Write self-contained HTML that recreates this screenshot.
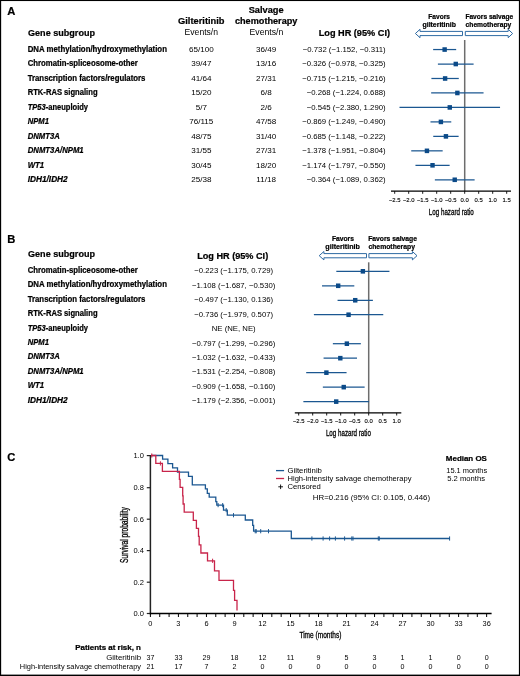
<!DOCTYPE html>
<html><head><meta charset="utf-8"><style>
html,body{margin:0;padding:0;background:#fff;overflow:hidden;width:520px;height:676px;}
svg{display:block;font-family:"Liberation Sans",sans-serif;will-change:transform;}
</style></head><body>
<svg width="520" height="676" viewBox="0 0 520 676">
<rect width="520" height="676" fill="#fff"/>
<rect x="0" y="0" width="520" height="1.05" fill="#000"/><rect x="0" y="0" width="1.15" height="676" fill="#000"/><rect x="518.9" y="0" width="1.1" height="676" fill="#000"/><rect x="0" y="674.6" width="520" height="1.4" fill="#000"/>
<text x="7.20" y="15.00" font-size="11.2" font-weight="bold" stroke="#000" stroke-width="0.22">A</text>
<text x="28.00" y="35.50" font-size="9.3" font-weight="bold" stroke="#000" stroke-width="0.22" textLength="67.00" lengthAdjust="spacingAndGlyphs">Gene subgroup</text>
<text x="201.30" y="24.25" font-size="9.1" font-weight="bold" stroke="#000" stroke-width="0.22" text-anchor="middle" textLength="46.50" lengthAdjust="spacingAndGlyphs">Gilteritinib</text>
<text x="266.20" y="13.00" font-size="9.1" font-weight="bold" stroke="#000" stroke-width="0.22" text-anchor="middle" textLength="35.00" lengthAdjust="spacingAndGlyphs">Salvage</text>
<text x="266.20" y="24.10" font-size="9.1" font-weight="bold" stroke="#000" stroke-width="0.22" text-anchor="middle" textLength="62.50" lengthAdjust="spacingAndGlyphs">chemotherapy</text>
<text x="201.30" y="35.00" font-size="8.6" text-anchor="middle" textLength="33.50" lengthAdjust="spacingAndGlyphs">Events/n</text>
<text x="266.40" y="35.00" font-size="8.6" text-anchor="middle" textLength="33.70" lengthAdjust="spacingAndGlyphs">Events/n</text>
<text x="318.70" y="35.80" font-size="9.1" font-weight="bold" stroke="#000" stroke-width="0.22" textLength="71.30" lengthAdjust="spacingAndGlyphs">Log HR (95% CI)</text>
<text x="27.70" y="51.90" font-size="8.3" font-weight="bold" stroke="#000" stroke-width="0.22" textLength="139.25" lengthAdjust="spacingAndGlyphs">DNA methylation/hydroxymethylation</text>
<text x="201.30" y="51.90" font-size="8.1" text-anchor="middle">65/100</text>
<text x="266.20" y="51.90" font-size="8.1" text-anchor="middle">36/49</text>
<text x="385.60" y="51.90" font-size="7.75" text-anchor="end">−0.732 (−1.152, −0.311)</text>
<text x="27.70" y="66.37" font-size="8.3" font-weight="bold" stroke="#000" stroke-width="0.22" textLength="110.13" lengthAdjust="spacingAndGlyphs">Chromatin-spliceosome-other</text>
<text x="201.30" y="66.37" font-size="8.1" text-anchor="middle">39/47</text>
<text x="266.20" y="66.37" font-size="8.1" text-anchor="middle">13/16</text>
<text x="385.60" y="66.37" font-size="7.75" text-anchor="end">−0.326 (−0.978, −0.325)</text>
<text x="27.70" y="80.84" font-size="8.3" font-weight="bold" stroke="#000" stroke-width="0.22" textLength="117.68" lengthAdjust="spacingAndGlyphs">Transcription factors/regulators</text>
<text x="201.30" y="80.84" font-size="8.1" text-anchor="middle">41/64</text>
<text x="266.20" y="80.84" font-size="8.1" text-anchor="middle">27/31</text>
<text x="385.60" y="80.84" font-size="7.75" text-anchor="end">−0.715 (−1.215, −0.216)</text>
<text x="27.70" y="95.31" font-size="8.3" font-weight="bold" stroke="#000" stroke-width="0.22" textLength="69.86" lengthAdjust="spacingAndGlyphs">RTK-RAS signaling</text>
<text x="201.30" y="95.31" font-size="8.1" text-anchor="middle">15/20</text>
<text x="266.20" y="95.31" font-size="8.1" text-anchor="middle">6/8</text>
<text x="385.60" y="95.31" font-size="7.75" text-anchor="end">−0.268 (−1.224, 0.688)</text>
<text x="27.70" y="109.78" font-size="8.3" font-weight="bold" stroke="#000" stroke-width="0.22" textLength="60.37" lengthAdjust="spacingAndGlyphs"><tspan font-style="italic">TP53</tspan>-aneuploidy</text>
<text x="201.30" y="109.78" font-size="8.1" text-anchor="middle">5/7</text>
<text x="266.20" y="109.78" font-size="8.1" text-anchor="middle">2/6</text>
<text x="385.60" y="109.78" font-size="7.75" text-anchor="end">−0.545 (−2.380, 1.290)</text>
<text x="27.70" y="124.25" font-size="8.3" font-weight="bold" stroke="#000" stroke-width="0.22" font-style="italic" textLength="21.26" lengthAdjust="spacingAndGlyphs">NPM1</text>
<text x="201.30" y="124.25" font-size="8.1" text-anchor="middle">76/115</text>
<text x="266.20" y="124.25" font-size="8.1" text-anchor="middle">47/58</text>
<text x="385.60" y="124.25" font-size="7.75" text-anchor="end">−0.869 (−1.249, −0.490)</text>
<text x="27.70" y="138.72" font-size="8.3" font-weight="bold" stroke="#000" stroke-width="0.22" font-style="italic" textLength="32.09" lengthAdjust="spacingAndGlyphs">DNMT3A</text>
<text x="201.30" y="138.72" font-size="8.1" text-anchor="middle">48/75</text>
<text x="266.20" y="138.72" font-size="8.1" text-anchor="middle">31/40</text>
<text x="385.60" y="138.72" font-size="7.75" text-anchor="end">−0.685 (−1.148, −0.222)</text>
<text x="27.70" y="153.19" font-size="8.3" font-weight="bold" stroke="#000" stroke-width="0.22" font-style="italic" textLength="55.99" lengthAdjust="spacingAndGlyphs">DNMT3A/NPM1</text>
<text x="201.30" y="153.19" font-size="8.1" text-anchor="middle">31/55</text>
<text x="266.20" y="153.19" font-size="8.1" text-anchor="middle">27/31</text>
<text x="385.60" y="153.19" font-size="7.75" text-anchor="end">−1.378 (−1.951, −0.804)</text>
<text x="27.70" y="167.66" font-size="8.3" font-weight="bold" stroke="#000" stroke-width="0.22" font-style="italic" textLength="16.54" lengthAdjust="spacingAndGlyphs">WT1</text>
<text x="201.30" y="167.66" font-size="8.1" text-anchor="middle">30/45</text>
<text x="266.20" y="167.66" font-size="8.1" text-anchor="middle">18/20</text>
<text x="385.60" y="167.66" font-size="7.75" text-anchor="end">−1.174 (−1.797, −0.550)</text>
<text x="27.70" y="182.13" font-size="8.3" font-weight="bold" stroke="#000" stroke-width="0.22" font-style="italic" textLength="40.02" lengthAdjust="spacingAndGlyphs">IDH1/IDH2</text>
<text x="201.30" y="182.13" font-size="8.1" text-anchor="middle">25/38</text>
<text x="266.20" y="182.13" font-size="8.1" text-anchor="middle">11/18</text>
<text x="385.60" y="182.13" font-size="7.75" text-anchor="end">−0.364 (−1.089, 0.362)</text>
<line x1="464.70" y1="40.00" x2="464.70" y2="191.20" stroke="#6d6d6d" stroke-width="1.5"/>
<line x1="433.14" y1="49.55" x2="456.18" y2="49.55" stroke="#1b5791" stroke-width="1.25"/>
<rect x="442.44" y="47.25" width="4.4" height="4.6" fill="#0b4a88"/>
<line x1="437.90" y1="64.02" x2="473.60" y2="64.02" stroke="#1b5791" stroke-width="1.25"/>
<rect x="453.57" y="61.72" width="4.4" height="4.6" fill="#0b4a88"/>
<line x1="431.41" y1="78.49" x2="458.78" y2="78.49" stroke="#1b5791" stroke-width="1.25"/>
<rect x="442.91" y="76.19" width="4.4" height="4.6" fill="#0b4a88"/>
<line x1="431.16" y1="92.96" x2="483.55" y2="92.96" stroke="#1b5791" stroke-width="1.25"/>
<rect x="455.16" y="90.66" width="4.4" height="4.6" fill="#0b4a88"/>
<line x1="399.49" y1="107.43" x2="500.05" y2="107.43" stroke="#1b5791" stroke-width="1.25"/>
<rect x="447.57" y="105.13" width="4.4" height="4.6" fill="#0b4a88"/>
<line x1="430.48" y1="121.90" x2="451.27" y2="121.90" stroke="#1b5791" stroke-width="1.25"/>
<rect x="438.69" y="119.60" width="4.4" height="4.6" fill="#0b4a88"/>
<line x1="433.24" y1="136.37" x2="458.62" y2="136.37" stroke="#1b5791" stroke-width="1.25"/>
<rect x="443.73" y="134.07" width="4.4" height="4.6" fill="#0b4a88"/>
<line x1="411.24" y1="150.84" x2="442.67" y2="150.84" stroke="#1b5791" stroke-width="1.25"/>
<rect x="424.74" y="148.54" width="4.4" height="4.6" fill="#0b4a88"/>
<line x1="415.46" y1="165.31" x2="449.63" y2="165.31" stroke="#1b5791" stroke-width="1.25"/>
<rect x="430.33" y="163.01" width="4.4" height="4.6" fill="#0b4a88"/>
<line x1="434.86" y1="179.78" x2="474.62" y2="179.78" stroke="#1b5791" stroke-width="1.25"/>
<rect x="452.53" y="177.48" width="4.4" height="4.6" fill="#0b4a88"/>
<line x1="391.00" y1="191.20" x2="511.00" y2="191.20" stroke="#000" stroke-width="1.3"/>
<line x1="394.70" y1="191.20" x2="394.70" y2="193.80" stroke="#000" stroke-width="0.9"/>
<text x="394.70" y="201.70" font-size="5.9" text-anchor="middle" stroke="#000" stroke-width="0.12">−2.5</text>
<line x1="408.70" y1="191.20" x2="408.70" y2="193.80" stroke="#000" stroke-width="0.9"/>
<text x="408.70" y="201.70" font-size="5.9" text-anchor="middle" stroke="#000" stroke-width="0.12">−2.0</text>
<line x1="422.70" y1="191.20" x2="422.70" y2="193.80" stroke="#000" stroke-width="0.9"/>
<text x="422.70" y="201.70" font-size="5.9" text-anchor="middle" stroke="#000" stroke-width="0.12">−1.5</text>
<line x1="436.70" y1="191.20" x2="436.70" y2="193.80" stroke="#000" stroke-width="0.9"/>
<text x="436.70" y="201.70" font-size="5.9" text-anchor="middle" stroke="#000" stroke-width="0.12">−1.0</text>
<line x1="450.70" y1="191.20" x2="450.70" y2="193.80" stroke="#000" stroke-width="0.9"/>
<text x="450.70" y="201.70" font-size="5.9" text-anchor="middle" stroke="#000" stroke-width="0.12">−0.5</text>
<line x1="464.70" y1="191.20" x2="464.70" y2="193.80" stroke="#000" stroke-width="0.9"/>
<text x="464.70" y="201.70" font-size="5.9" text-anchor="middle" stroke="#000" stroke-width="0.12">0.0</text>
<line x1="478.70" y1="191.20" x2="478.70" y2="193.80" stroke="#000" stroke-width="0.9"/>
<text x="478.70" y="201.70" font-size="5.9" text-anchor="middle" stroke="#000" stroke-width="0.12">0.5</text>
<line x1="492.70" y1="191.20" x2="492.70" y2="193.80" stroke="#000" stroke-width="0.9"/>
<text x="492.70" y="201.70" font-size="5.9" text-anchor="middle" stroke="#000" stroke-width="0.12">1.0</text>
<line x1="506.70" y1="191.20" x2="506.70" y2="193.80" stroke="#000" stroke-width="0.9"/>
<text x="506.70" y="201.70" font-size="5.9" text-anchor="middle" stroke="#000" stroke-width="0.12">1.5</text>
<text x="451.30" y="214.60" font-size="8.8" text-anchor="middle" textLength="45.00" lengthAdjust="spacingAndGlyphs" stroke="#000" stroke-width="0.3">Log hazard ratio</text>
<polygon points="415.4,33.5 420.0,29.3 420.0,31.4 462.5,31.4 462.5,35.6 420.0,35.6 420.0,37.7" fill="#fff" stroke="#2e6aa3" stroke-width="1" stroke-linejoin="miter"/>
<polygon points="465.3,31.4 508.2,31.4 508.2,29.3 512.6,33.5 508.2,37.7 508.2,35.6 465.3,35.6" fill="#fff" stroke="#2e6aa3" stroke-width="1" stroke-linejoin="miter"/>
<text x="439.10" y="18.70" font-size="6.8" font-weight="bold" stroke="#000" stroke-width="0.22" text-anchor="middle" textLength="21.60" lengthAdjust="spacingAndGlyphs">Favors</text>
<text x="439.20" y="26.80" font-size="6.8" font-weight="bold" stroke="#000" stroke-width="0.22" text-anchor="middle" textLength="33.40" lengthAdjust="spacingAndGlyphs">gilteritinib</text>
<text x="489.30" y="18.70" font-size="6.8" font-weight="bold" stroke="#000" stroke-width="0.22" text-anchor="middle" textLength="47.80" lengthAdjust="spacingAndGlyphs">Favors salvage</text>
<text x="488.40" y="26.70" font-size="6.8" font-weight="bold" stroke="#000" stroke-width="0.22" text-anchor="middle" textLength="45.60" lengthAdjust="spacingAndGlyphs">chemotherapy</text>
<text x="7.20" y="243.00" font-size="11.2" font-weight="bold" stroke="#000" stroke-width="0.22">B</text>
<text x="28.00" y="257.30" font-size="9.3" font-weight="bold" stroke="#000" stroke-width="0.22" textLength="67.00" lengthAdjust="spacingAndGlyphs">Gene subgroup</text>
<text x="232.70" y="258.60" font-size="9.1" font-weight="bold" stroke="#000" stroke-width="0.22" text-anchor="middle" textLength="71.00" lengthAdjust="spacingAndGlyphs">Log HR (95% CI)</text>
<text x="27.70" y="272.60" font-size="8.3" font-weight="bold" stroke="#000" stroke-width="0.22" textLength="110.13" lengthAdjust="spacingAndGlyphs">Chromatin-spliceosome-other</text>
<text x="233.70" y="273.10" font-size="7.75" text-anchor="middle">−0.223 (−1.175, 0.729)</text>
<text x="27.70" y="287.08" font-size="8.3" font-weight="bold" stroke="#000" stroke-width="0.22" textLength="139.25" lengthAdjust="spacingAndGlyphs">DNA methylation/hydroxymethylation</text>
<text x="233.70" y="287.58" font-size="7.75" text-anchor="middle">−1.108 (−1.687, −0.530)</text>
<text x="27.70" y="301.56" font-size="8.3" font-weight="bold" stroke="#000" stroke-width="0.22" textLength="117.68" lengthAdjust="spacingAndGlyphs">Transcription factors/regulators</text>
<text x="233.70" y="302.06" font-size="7.75" text-anchor="middle">−0.497 (−1.130, 0.136)</text>
<text x="27.70" y="316.04" font-size="8.3" font-weight="bold" stroke="#000" stroke-width="0.22" textLength="69.86" lengthAdjust="spacingAndGlyphs">RTK-RAS signaling</text>
<text x="233.70" y="316.54" font-size="7.75" text-anchor="middle">−0.736 (−1.979, 0.507)</text>
<text x="27.70" y="330.52" font-size="8.3" font-weight="bold" stroke="#000" stroke-width="0.22" textLength="60.37" lengthAdjust="spacingAndGlyphs"><tspan font-style="italic">TP53</tspan>-aneuploidy</text>
<text x="233.70" y="331.02" font-size="7.75" text-anchor="middle">NE (NE, NE)</text>
<text x="27.70" y="345.00" font-size="8.3" font-weight="bold" stroke="#000" stroke-width="0.22" font-style="italic" textLength="21.26" lengthAdjust="spacingAndGlyphs">NPM1</text>
<text x="233.70" y="345.50" font-size="7.75" text-anchor="middle">−0.797 (−1.299, −0.296)</text>
<text x="27.70" y="359.48" font-size="8.3" font-weight="bold" stroke="#000" stroke-width="0.22" font-style="italic" textLength="32.09" lengthAdjust="spacingAndGlyphs">DNMT3A</text>
<text x="233.70" y="359.98" font-size="7.75" text-anchor="middle">−1.032 (−1.632, −0.433)</text>
<text x="27.70" y="373.96" font-size="8.3" font-weight="bold" stroke="#000" stroke-width="0.22" font-style="italic" textLength="55.99" lengthAdjust="spacingAndGlyphs">DNMT3A/NPM1</text>
<text x="233.70" y="374.46" font-size="7.75" text-anchor="middle">−1.531 (−2.254, −0.808)</text>
<text x="27.70" y="388.44" font-size="8.3" font-weight="bold" stroke="#000" stroke-width="0.22" font-style="italic" textLength="16.54" lengthAdjust="spacingAndGlyphs">WT1</text>
<text x="233.70" y="388.94" font-size="7.75" text-anchor="middle">−0.909 (−1.658, −0.160)</text>
<text x="27.70" y="402.92" font-size="8.3" font-weight="bold" stroke="#000" stroke-width="0.22" font-style="italic" textLength="40.02" lengthAdjust="spacingAndGlyphs">IDH1/IDH2</text>
<text x="233.70" y="403.42" font-size="7.75" text-anchor="middle">−1.179 (−2.356, −0.001)</text>
<line x1="368.70" y1="262.30" x2="368.70" y2="412.90" stroke="#6d6d6d" stroke-width="1.5"/>
<line x1="336.32" y1="271.30" x2="389.44" y2="271.30" stroke="#1b5791" stroke-width="1.25"/>
<rect x="360.68" y="269.00" width="4.4" height="4.6" fill="#0b4a88"/>
<line x1="322.03" y1="285.78" x2="354.31" y2="285.78" stroke="#1b5791" stroke-width="1.25"/>
<rect x="335.99" y="283.48" width="4.4" height="4.6" fill="#0b4a88"/>
<line x1="337.57" y1="300.26" x2="372.89" y2="300.26" stroke="#1b5791" stroke-width="1.25"/>
<rect x="353.03" y="297.96" width="4.4" height="4.6" fill="#0b4a88"/>
<line x1="313.89" y1="314.74" x2="383.25" y2="314.74" stroke="#1b5791" stroke-width="1.25"/>
<rect x="346.37" y="312.44" width="4.4" height="4.6" fill="#0b4a88"/>
<line x1="332.86" y1="343.70" x2="360.84" y2="343.70" stroke="#1b5791" stroke-width="1.25"/>
<rect x="344.66" y="341.40" width="4.4" height="4.6" fill="#0b4a88"/>
<line x1="323.57" y1="358.18" x2="357.02" y2="358.18" stroke="#1b5791" stroke-width="1.25"/>
<rect x="338.11" y="355.88" width="4.4" height="4.6" fill="#0b4a88"/>
<line x1="306.21" y1="372.66" x2="346.56" y2="372.66" stroke="#1b5791" stroke-width="1.25"/>
<rect x="324.19" y="370.36" width="4.4" height="4.6" fill="#0b4a88"/>
<line x1="322.84" y1="387.14" x2="364.64" y2="387.14" stroke="#1b5791" stroke-width="1.25"/>
<rect x="341.54" y="384.84" width="4.4" height="4.6" fill="#0b4a88"/>
<line x1="303.37" y1="401.62" x2="369.07" y2="401.62" stroke="#1b5791" stroke-width="1.25"/>
<rect x="334.01" y="399.32" width="4.4" height="4.6" fill="#0b4a88"/>
<line x1="294.80" y1="412.90" x2="401.30" y2="412.90" stroke="#000" stroke-width="1.3"/>
<line x1="298.70" y1="412.90" x2="298.70" y2="415.50" stroke="#000" stroke-width="0.9"/>
<text x="298.70" y="423.40" font-size="5.9" text-anchor="middle" stroke="#000" stroke-width="0.12">−2.5</text>
<line x1="312.70" y1="412.90" x2="312.70" y2="415.50" stroke="#000" stroke-width="0.9"/>
<text x="312.70" y="423.40" font-size="5.9" text-anchor="middle" stroke="#000" stroke-width="0.12">−2.0</text>
<line x1="326.70" y1="412.90" x2="326.70" y2="415.50" stroke="#000" stroke-width="0.9"/>
<text x="326.70" y="423.40" font-size="5.9" text-anchor="middle" stroke="#000" stroke-width="0.12">−1.5</text>
<line x1="340.70" y1="412.90" x2="340.70" y2="415.50" stroke="#000" stroke-width="0.9"/>
<text x="340.70" y="423.40" font-size="5.9" text-anchor="middle" stroke="#000" stroke-width="0.12">−1.0</text>
<line x1="354.70" y1="412.90" x2="354.70" y2="415.50" stroke="#000" stroke-width="0.9"/>
<text x="354.70" y="423.40" font-size="5.9" text-anchor="middle" stroke="#000" stroke-width="0.12">−0.5</text>
<line x1="368.70" y1="412.90" x2="368.70" y2="415.50" stroke="#000" stroke-width="0.9"/>
<text x="368.70" y="423.40" font-size="5.9" text-anchor="middle" stroke="#000" stroke-width="0.12">0.0</text>
<line x1="382.70" y1="412.90" x2="382.70" y2="415.50" stroke="#000" stroke-width="0.9"/>
<text x="382.70" y="423.40" font-size="5.9" text-anchor="middle" stroke="#000" stroke-width="0.12">0.5</text>
<line x1="396.70" y1="412.90" x2="396.70" y2="415.50" stroke="#000" stroke-width="0.9"/>
<text x="396.70" y="423.40" font-size="5.9" text-anchor="middle" stroke="#000" stroke-width="0.12">1.0</text>
<text x="348.40" y="436.30" font-size="8.8" text-anchor="middle" textLength="45.00" lengthAdjust="spacingAndGlyphs" stroke="#000" stroke-width="0.3">Log hazard ratio</text>
<polygon points="319.2,255.7 323.9,251.5 323.9,253.6 366.5,253.6 366.5,257.8 323.9,257.8 323.9,259.9" fill="#fff" stroke="#2e6aa3" stroke-width="1" stroke-linejoin="miter"/>
<polygon points="368.9,253.6 412.4,253.6 412.4,251.5 417.0,255.7 412.4,259.9 412.4,257.8 368.9,257.8" fill="#fff" stroke="#2e6aa3" stroke-width="1" stroke-linejoin="miter"/>
<text x="342.90" y="240.70" font-size="6.9" font-weight="bold" stroke="#000" stroke-width="0.22" text-anchor="middle" textLength="22.00" lengthAdjust="spacingAndGlyphs">Favors</text>
<text x="342.60" y="248.80" font-size="6.9" font-weight="bold" stroke="#000" stroke-width="0.22" text-anchor="middle" textLength="34.50" lengthAdjust="spacingAndGlyphs">gilteritinib</text>
<text x="392.60" y="240.70" font-size="6.9" font-weight="bold" stroke="#000" stroke-width="0.22" text-anchor="middle" textLength="48.80" lengthAdjust="spacingAndGlyphs">Favors salvage</text>
<text x="391.70" y="248.70" font-size="6.9" font-weight="bold" stroke="#000" stroke-width="0.22" text-anchor="middle" textLength="46.60" lengthAdjust="spacingAndGlyphs">chemotherapy</text>
<text x="7.20" y="461.30" font-size="11.2" font-weight="bold" stroke="#000" stroke-width="0.22">C</text>
<line x1="150.40" y1="455.00" x2="150.40" y2="614.40" stroke="#222" stroke-width="1.5"/>
<line x1="146.80" y1="613.50" x2="150.40" y2="613.50" stroke="#222" stroke-width="1.2"/>
<text x="143.90" y="616.10" font-size="7.5" text-anchor="end">0.0</text>
<line x1="146.80" y1="582.20" x2="150.40" y2="582.20" stroke="#222" stroke-width="1.2"/>
<text x="143.90" y="584.80" font-size="7.5" text-anchor="end">0.2</text>
<line x1="146.80" y1="550.60" x2="150.40" y2="550.60" stroke="#222" stroke-width="1.2"/>
<text x="143.90" y="553.20" font-size="7.5" text-anchor="end">0.4</text>
<line x1="146.80" y1="519.20" x2="150.40" y2="519.20" stroke="#222" stroke-width="1.2"/>
<text x="143.90" y="521.80" font-size="7.5" text-anchor="end">0.6</text>
<line x1="146.80" y1="487.70" x2="150.40" y2="487.70" stroke="#222" stroke-width="1.2"/>
<text x="143.90" y="490.30" font-size="7.5" text-anchor="end">0.8</text>
<line x1="146.80" y1="455.60" x2="150.40" y2="455.60" stroke="#222" stroke-width="1.2"/>
<text x="143.90" y="458.20" font-size="7.5" text-anchor="end">1.0</text>
<line x1="149.80" y1="613.50" x2="491.60" y2="613.50" stroke="#000" stroke-width="1.4"/>
<line x1="150.40" y1="613.50" x2="150.40" y2="617.00" stroke="#000" stroke-width="1.0"/>
<text x="150.40" y="625.70" font-size="7.4" text-anchor="middle">0</text>
<line x1="159.74" y1="613.50" x2="159.74" y2="617.00" stroke="#000" stroke-width="1.0"/>
<line x1="169.08" y1="613.50" x2="169.08" y2="617.00" stroke="#000" stroke-width="1.0"/>
<line x1="178.42" y1="613.50" x2="178.42" y2="617.00" stroke="#000" stroke-width="1.0"/>
<text x="178.42" y="625.70" font-size="7.4" text-anchor="middle">3</text>
<line x1="187.76" y1="613.50" x2="187.76" y2="617.00" stroke="#000" stroke-width="1.0"/>
<line x1="197.10" y1="613.50" x2="197.10" y2="617.00" stroke="#000" stroke-width="1.0"/>
<line x1="206.44" y1="613.50" x2="206.44" y2="617.00" stroke="#000" stroke-width="1.0"/>
<text x="206.44" y="625.70" font-size="7.4" text-anchor="middle">6</text>
<line x1="215.78" y1="613.50" x2="215.78" y2="617.00" stroke="#000" stroke-width="1.0"/>
<line x1="225.12" y1="613.50" x2="225.12" y2="617.00" stroke="#000" stroke-width="1.0"/>
<line x1="234.46" y1="613.50" x2="234.46" y2="617.00" stroke="#000" stroke-width="1.0"/>
<text x="234.46" y="625.70" font-size="7.4" text-anchor="middle">9</text>
<line x1="243.80" y1="613.50" x2="243.80" y2="617.00" stroke="#000" stroke-width="1.0"/>
<line x1="253.14" y1="613.50" x2="253.14" y2="617.00" stroke="#000" stroke-width="1.0"/>
<line x1="262.48" y1="613.50" x2="262.48" y2="617.00" stroke="#000" stroke-width="1.0"/>
<text x="262.48" y="625.70" font-size="7.4" text-anchor="middle">12</text>
<line x1="271.82" y1="613.50" x2="271.82" y2="617.00" stroke="#000" stroke-width="1.0"/>
<line x1="281.16" y1="613.50" x2="281.16" y2="617.00" stroke="#000" stroke-width="1.0"/>
<line x1="290.50" y1="613.50" x2="290.50" y2="617.00" stroke="#000" stroke-width="1.0"/>
<text x="290.50" y="625.70" font-size="7.4" text-anchor="middle">15</text>
<line x1="299.84" y1="613.50" x2="299.84" y2="617.00" stroke="#000" stroke-width="1.0"/>
<line x1="309.18" y1="613.50" x2="309.18" y2="617.00" stroke="#000" stroke-width="1.0"/>
<line x1="318.52" y1="613.50" x2="318.52" y2="617.00" stroke="#000" stroke-width="1.0"/>
<text x="318.52" y="625.70" font-size="7.4" text-anchor="middle">18</text>
<line x1="327.86" y1="613.50" x2="327.86" y2="617.00" stroke="#000" stroke-width="1.0"/>
<line x1="337.20" y1="613.50" x2="337.20" y2="617.00" stroke="#000" stroke-width="1.0"/>
<line x1="346.54" y1="613.50" x2="346.54" y2="617.00" stroke="#000" stroke-width="1.0"/>
<text x="346.54" y="625.70" font-size="7.4" text-anchor="middle">21</text>
<line x1="355.88" y1="613.50" x2="355.88" y2="617.00" stroke="#000" stroke-width="1.0"/>
<line x1="365.22" y1="613.50" x2="365.22" y2="617.00" stroke="#000" stroke-width="1.0"/>
<line x1="374.56" y1="613.50" x2="374.56" y2="617.00" stroke="#000" stroke-width="1.0"/>
<text x="374.56" y="625.70" font-size="7.4" text-anchor="middle">24</text>
<line x1="383.90" y1="613.50" x2="383.90" y2="617.00" stroke="#000" stroke-width="1.0"/>
<line x1="393.24" y1="613.50" x2="393.24" y2="617.00" stroke="#000" stroke-width="1.0"/>
<line x1="402.58" y1="613.50" x2="402.58" y2="617.00" stroke="#000" stroke-width="1.0"/>
<text x="402.58" y="625.70" font-size="7.4" text-anchor="middle">27</text>
<line x1="411.92" y1="613.50" x2="411.92" y2="617.00" stroke="#000" stroke-width="1.0"/>
<line x1="421.26" y1="613.50" x2="421.26" y2="617.00" stroke="#000" stroke-width="1.0"/>
<line x1="430.60" y1="613.50" x2="430.60" y2="617.00" stroke="#000" stroke-width="1.0"/>
<text x="430.60" y="625.70" font-size="7.4" text-anchor="middle">30</text>
<line x1="439.94" y1="613.50" x2="439.94" y2="617.00" stroke="#000" stroke-width="1.0"/>
<line x1="449.28" y1="613.50" x2="449.28" y2="617.00" stroke="#000" stroke-width="1.0"/>
<line x1="458.62" y1="613.50" x2="458.62" y2="617.00" stroke="#000" stroke-width="1.0"/>
<text x="458.62" y="625.70" font-size="7.4" text-anchor="middle">33</text>
<line x1="467.96" y1="613.50" x2="467.96" y2="617.00" stroke="#000" stroke-width="1.0"/>
<line x1="477.30" y1="613.50" x2="477.30" y2="617.00" stroke="#000" stroke-width="1.0"/>
<line x1="486.64" y1="613.50" x2="486.64" y2="617.00" stroke="#000" stroke-width="1.0"/>
<text x="486.64" y="625.70" font-size="7.4" text-anchor="middle">36</text>
<text x="320.40" y="637.90" font-size="8.6" text-anchor="middle" textLength="42.00" lengthAdjust="spacingAndGlyphs" stroke="#000" stroke-width="0.3">Time (months)</text>
<text transform="translate(127.9,535.05) rotate(-90)" x="0" y="0" font-size="10.2" text-anchor="middle" textLength="55.7" lengthAdjust="spacingAndGlyphs" stroke="#000" stroke-width="0.3">Survival probability</text>
<path d="M151.0,455.5 H162.6 V459.2 H167.9 V463.6 H172.6 V467.9 H177.5 V472.2 H188.5 V476.3 H192.3 V484.9 H205.4 V488.9 H207.3 V493.4 H209.2 V497.2 H215.8 V501.6 H216.8 V505.1 H223.5 V510.1 H227.3 V515.2 H245.3 V520.0 H252.7 V525.4 H253.6 V531.2 H291.3 V538.5 H449.8" fill="none" stroke="#1b5791" stroke-width="1.3"/>
<line x1="218.10" y1="503.00" x2="218.10" y2="507.20" stroke="#1b5791" stroke-width="1.0"/>
<line x1="222.70" y1="503.00" x2="222.70" y2="507.20" stroke="#1b5791" stroke-width="1.0"/>
<line x1="226.20" y1="508.00" x2="226.20" y2="512.20" stroke="#1b5791" stroke-width="1.0"/>
<line x1="233.50" y1="513.10" x2="233.50" y2="517.30" stroke="#1b5791" stroke-width="1.0"/>
<line x1="255.20" y1="529.10" x2="255.20" y2="533.30" stroke="#1b5791" stroke-width="1.0"/>
<line x1="256.20" y1="529.10" x2="256.20" y2="533.30" stroke="#1b5791" stroke-width="1.0"/>
<line x1="260.70" y1="529.10" x2="260.70" y2="533.30" stroke="#1b5791" stroke-width="1.0"/>
<line x1="268.50" y1="529.10" x2="268.50" y2="533.30" stroke="#1b5791" stroke-width="1.0"/>
<line x1="311.90" y1="536.40" x2="311.90" y2="540.60" stroke="#1b5791" stroke-width="1.0"/>
<line x1="323.10" y1="536.40" x2="323.10" y2="540.60" stroke="#1b5791" stroke-width="1.0"/>
<line x1="329.60" y1="536.40" x2="329.60" y2="540.60" stroke="#1b5791" stroke-width="1.0"/>
<line x1="335.40" y1="536.40" x2="335.40" y2="540.60" stroke="#1b5791" stroke-width="1.0"/>
<line x1="344.60" y1="536.40" x2="344.60" y2="540.60" stroke="#1b5791" stroke-width="1.0"/>
<line x1="351.80" y1="536.40" x2="351.80" y2="540.60" stroke="#1b5791" stroke-width="1.0"/>
<line x1="353.00" y1="536.40" x2="353.00" y2="540.60" stroke="#1b5791" stroke-width="1.0"/>
<line x1="378.30" y1="536.40" x2="378.30" y2="540.60" stroke="#1b5791" stroke-width="1.0"/>
<line x1="379.30" y1="536.40" x2="379.30" y2="540.60" stroke="#1b5791" stroke-width="1.0"/>
<line x1="449.60" y1="536.40" x2="449.60" y2="540.60" stroke="#1b5791" stroke-width="1.0"/>
<path d="M151.0,455.5 H155.8 V463.4 H162.4 V471.35 H179.4 V479.4 H180.1 V487.4 H182.7 V495.9 H183.1 V504.0 H184.2 V512.1 H193.3 V520.3 H196.4 V528.4 H198.5 V536.3 H199.2 V544.8 H200.9 V553.0 H207.5 V560.8 H214.5 V570.8 H219.0 V580.4 H233.5 V590.3 H234.6 V600.4 H237.0 V610.4" fill="none" stroke="#c8244a" stroke-width="1.3"/>
<line x1="151.80" y1="453.40" x2="151.80" y2="457.60" stroke="#c8244a" stroke-width="1.0"/>
<line x1="160.40" y1="461.30" x2="160.40" y2="465.50" stroke="#c8244a" stroke-width="1.0"/>
<line x1="212.60" y1="558.70" x2="212.60" y2="562.90" stroke="#c8244a" stroke-width="1.0"/>
<line x1="276.00" y1="470.60" x2="284.10" y2="470.60" stroke="#1b5791" stroke-width="1.3"/>
<line x1="276.00" y1="478.50" x2="284.10" y2="478.50" stroke="#c8244a" stroke-width="1.3"/>
<line x1="278.30" y1="486.80" x2="283.00" y2="486.80" stroke="#000" stroke-width="0.9"/>
<line x1="280.60" y1="484.50" x2="280.60" y2="489.10" stroke="#000" stroke-width="0.9"/>
<text x="287.50" y="472.50" font-size="7.5" textLength="34.40" lengthAdjust="spacingAndGlyphs">Gilteritinib</text>
<text x="287.50" y="480.50" font-size="7.5" textLength="124.00" lengthAdjust="spacingAndGlyphs">High-intensity salvage chemotherapy</text>
<text x="287.50" y="489.00" font-size="7.5" textLength="33.30" lengthAdjust="spacingAndGlyphs">Censored</text>
<text x="312.80" y="499.80" font-size="7.5" textLength="117.30" lengthAdjust="spacingAndGlyphs">HR=0.216 (95% CI: 0.105, 0.446)</text>
<text x="466.40" y="461.10" font-size="7.2" font-weight="bold" stroke="#000" stroke-width="0.22" text-anchor="middle" textLength="41.10" lengthAdjust="spacingAndGlyphs">Median OS</text>
<text x="466.70" y="472.80" font-size="7.2" text-anchor="middle" textLength="40.90" lengthAdjust="spacingAndGlyphs">15.1 months</text>
<text x="466.10" y="480.50" font-size="7.2" text-anchor="middle" textLength="37.80" lengthAdjust="spacingAndGlyphs">5.2 months</text>
<text x="141.00" y="650.00" font-size="7.1" font-weight="bold" stroke="#000" stroke-width="0.22" text-anchor="end" textLength="65.80" lengthAdjust="spacingAndGlyphs">Patients at risk, n</text>
<text x="141.00" y="659.60" font-size="7.1" text-anchor="end" textLength="34.70" lengthAdjust="spacingAndGlyphs">Gilteritinib</text>
<text x="141.00" y="668.90" font-size="7.1" text-anchor="end" textLength="121.20" lengthAdjust="spacingAndGlyphs">High-intensity salvage chemotherapy</text>
<text x="150.40" y="659.60" font-size="7.1" text-anchor="middle">37</text>
<text x="150.40" y="668.90" font-size="7.1" text-anchor="middle">21</text>
<text x="178.42" y="659.60" font-size="7.1" text-anchor="middle">33</text>
<text x="178.42" y="668.90" font-size="7.1" text-anchor="middle">17</text>
<text x="206.44" y="659.60" font-size="7.1" text-anchor="middle">29</text>
<text x="206.44" y="668.90" font-size="7.1" text-anchor="middle">7</text>
<text x="234.46" y="659.60" font-size="7.1" text-anchor="middle">18</text>
<text x="234.46" y="668.90" font-size="7.1" text-anchor="middle">2</text>
<text x="262.48" y="659.60" font-size="7.1" text-anchor="middle">12</text>
<text x="262.48" y="668.90" font-size="7.1" text-anchor="middle">0</text>
<text x="290.50" y="659.60" font-size="7.1" text-anchor="middle">11</text>
<text x="290.50" y="668.90" font-size="7.1" text-anchor="middle">0</text>
<text x="318.52" y="659.60" font-size="7.1" text-anchor="middle">9</text>
<text x="318.52" y="668.90" font-size="7.1" text-anchor="middle">0</text>
<text x="346.54" y="659.60" font-size="7.1" text-anchor="middle">5</text>
<text x="346.54" y="668.90" font-size="7.1" text-anchor="middle">0</text>
<text x="374.56" y="659.60" font-size="7.1" text-anchor="middle">3</text>
<text x="374.56" y="668.90" font-size="7.1" text-anchor="middle">0</text>
<text x="402.58" y="659.60" font-size="7.1" text-anchor="middle">1</text>
<text x="402.58" y="668.90" font-size="7.1" text-anchor="middle">0</text>
<text x="430.60" y="659.60" font-size="7.1" text-anchor="middle">1</text>
<text x="430.60" y="668.90" font-size="7.1" text-anchor="middle">0</text>
<text x="458.62" y="659.60" font-size="7.1" text-anchor="middle">0</text>
<text x="458.62" y="668.90" font-size="7.1" text-anchor="middle">0</text>
<text x="486.64" y="659.60" font-size="7.1" text-anchor="middle">0</text>
<text x="486.64" y="668.90" font-size="7.1" text-anchor="middle">0</text>
</svg>
</body></html>
